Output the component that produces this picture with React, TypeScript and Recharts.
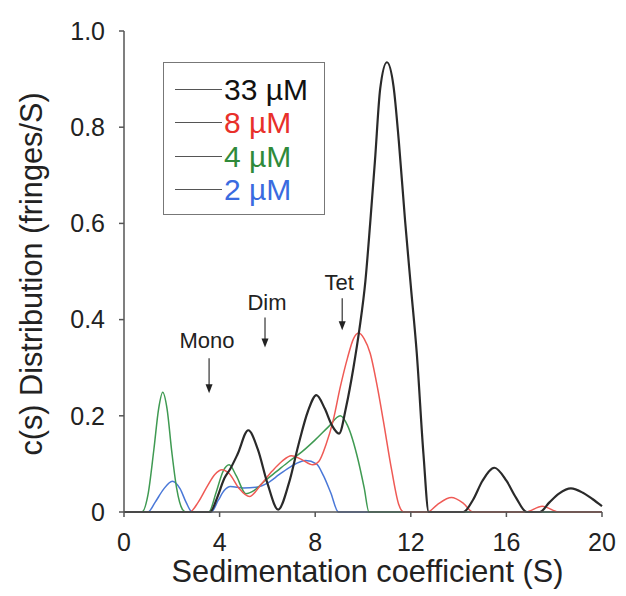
import { LineChart, Line, XAxis, YAxis, Legend, ReferenceDot, Label } from "recharts";

const FONT = "'Liberation Sans', Arial, sans-serif";

const X_TICKS = [0, 4, 8, 12, 16, 20];
const Y_TICKS = [0, 0.2, 0.4, 0.6, 0.8, 1.0];

// 33 uM
const S_33 = [0, 3.6, 3.9, 4.2, 4.45, 4.75, 5.2, 5.6, 6.0, 6.45, 6.9, 7.3, 7.7, 8.05, 8.4, 8.7, 9.0, 9.3, 9.6, 9.85, 10.1, 10.3, 10.5, 10.72, 11.0, 11.28, 11.5, 11.76, 12.0, 12.25, 12.53, 12.75, 14.2, 14.6, 15.0, 15.5, 16.0, 16.4, 16.85, 17.4, 17.8, 18.2, 18.7, 19.2, 19.6, 20];
const C_33 = [0, 0, 0.03, 0.07, 0.09, 0.12, 0.17, 0.13, 0.06, 0.005, 0.06, 0.14, 0.21, 0.243, 0.215, 0.18, 0.163, 0.22, 0.3, 0.38, 0.48, 0.6, 0.73, 0.88, 0.935, 0.884, 0.77, 0.606, 0.47, 0.33, 0.12, 0, 0, 0.025, 0.065, 0.092, 0.065, 0.03, 0, 0, 0.02, 0.038, 0.049, 0.04, 0.027, 0.012];

// 8 uM
const S_8 = [0, 2.75, 3.1, 3.5, 3.8, 4.1, 4.4, 4.8, 5.25, 5.7, 6.2, 6.6, 7.0, 7.4, 7.9, 8.15, 8.45, 8.75, 9.05, 9.35, 9.6, 9.82, 10.05, 10.3, 10.6, 10.85, 11.2, 11.5, 11.7, 12.7, 13.1, 13.7, 14.2, 14.6, 16.8, 17.5, 18.2, 20];
const C_8 = [0, 0, 0.02, 0.055, 0.078, 0.088, 0.08, 0.05, 0.032, 0.055, 0.085, 0.105, 0.117, 0.11, 0.098, 0.105, 0.14, 0.19, 0.26, 0.32, 0.36, 0.372, 0.36, 0.33, 0.26, 0.19, 0.087, 0.015, 0, 0, 0.015, 0.03, 0.018, 0, 0, 0.012, 0, 0];

// 4 uM
const S_4 = [0, 0.75, 1.0, 1.25, 1.45, 1.62, 1.8, 2.0, 2.2, 2.45, 2.6, 3.55, 3.85, 4.15, 4.4, 4.7, 5.1, 5.45, 5.9, 6.4, 6.9, 7.44, 8.0, 8.55, 9.05, 9.35, 9.8, 10.05, 10.25, 20];
const C_4 = [0, 0, 0.035, 0.13, 0.215, 0.249, 0.215, 0.125, 0.05, 0.005, 0, 0, 0.04, 0.085, 0.098, 0.075, 0.038, 0.045, 0.065, 0.085, 0.105, 0.125, 0.15, 0.177, 0.2, 0.18, 0.107, 0.05, 0, 0];

// 2 uM
const S_2 = [0, 1.0, 1.3, 1.65, 2.02, 2.35, 2.6, 2.85, 3.65, 3.95, 4.2, 4.45, 5.0, 5.6, 6.0, 6.5, 7.0, 7.6, 8.05, 8.35, 8.65, 8.97, 20];
const C_2 = [0, 0, 0.02, 0.047, 0.064, 0.048, 0.02, 0, 0, 0.025, 0.045, 0.053, 0.05, 0.052, 0.06, 0.078, 0.095, 0.107, 0.1, 0.075, 0.04, 0, 0];

const SERIES = [
  { name: "33 µM", s: S_33, c: C_33, stroke: "#2a2a2a", text: "#111111", width: 2.2 },
  { name: "8 µM", s: S_8, c: C_8, stroke: "#ef5a55", text: "#e8302a", width: 1.5 },
  { name: "4 µM", s: S_4, c: C_4, stroke: "#3f9a52", text: "#2f8a3a", width: 1.5 },
  { name: "2 µM", s: S_2, c: C_2, stroke: "#4a78d8", text: "#3a6be0", width: 1.5 },
];

// arrow tip in data coordinates, text offsets in px
const ANNOTATIONS = [
  { label: "Mono", s: 3.56, c: 0.247, textDx: -2, textDy: -45, lineDy: -35 },
  { label: "Dim", s: 5.9, c: 0.342, textDx: 2, textDy: -37, lineDy: -30 },
  { label: "Tet", s: 9.13, c: 0.378, textDx: -3, textDy: -40, lineDy: -32 },
];

function toRows(s: number[], c: number[]) {
  return s.map((x, i) => ({ s: x, c: c[i] }));
}

function arrowShape(a: (typeof ANNOTATIONS)[number]) {
  return (props: any) => {
    const { cx, cy } = props;
    return (
      <g>
        <text x={cx + a.textDx} y={cy + a.textDy} textAnchor="middle" fontSize={22} fontFamily={FONT} fill="#222">
          {a.label}
        </text>
        <line x1={cx} y1={cy + a.lineDy} x2={cx} y2={cy - 8} stroke="#333" strokeWidth={1.2} />
        <polygon points={`${cx - 3.5},${cy - 9} ${cx + 3.5},${cy - 9} ${cx},${cy}`} fill="#222" />
      </g>
    );
  };
}

function LegendBox() {
  return (
    <div
      style={{
        width: 162,
        height: 153,
        boxSizing: "border-box",
        border: "1.5px solid #777",
        paddingTop: 10,
        fontFamily: FONT,
      }}
    >
      {SERIES.map((s) => (
        <div key={s.name} style={{ display: "flex", alignItems: "center", height: 33.3 }}>
          <span style={{ display: "inline-block", marginLeft: 11, width: 47, height: 0, borderTop: "1.5px solid #555" }} />
          <span style={{ marginLeft: 2, fontSize: 30, color: s.text, lineHeight: "33px" }}>{s.name}</span>
        </div>
      ))}
    </div>
  );
}

export default function App() {
  return (
    <LineChart width={618} height={588} margin={{ top: 23, right: 24, left: 0, bottom: 0 }}>
      <XAxis
        type="number"
        dataKey="s"
        domain={[0, 20]}
        ticks={X_TICKS}
        allowDuplicatedCategory={false}
        height={84}
        stroke="#555"
        strokeWidth={1.5}
        tickSize={5}
        tickMargin={16}
        tick={{ fontSize: 25, fill: "#222", fontFamily: FONT }}
      >
        <Label
          content={() => (
            <text x={359.5} y={574} textAnchor="middle" fontSize={30.7} fontFamily={FONT} fill="#222">
              Sedimentation coefficient (S)
            </text>
          )}
        />
      </XAxis>
      <YAxis
        type="number"
        domain={[0, 1]}
        ticks={Y_TICKS}
        width={116}
        stroke="#555"
        strokeWidth={1.5}
        tickSize={5}
        tickMargin={14}
        tickFormatter={(v: number) => (v === 0 ? "0" : v.toFixed(1))}
        tick={{ fontSize: 25, fill: "#222", fontFamily: FONT }}
      >
        <Label
          content={() => (
            <text
              x={34}
              y={266}
              transform="rotate(-90 34 266)"
              textAnchor="middle"
              fontSize={30.7}
              fontFamily={FONT}
              fill="#222"
            >
              c(s) Distribution (fringes/S)
            </text>
          )}
        />
      </YAxis>
      <Legend
        layout="vertical"
        align="center"
        verticalAlign="middle"
        wrapperStyle={{ left: 155, top: 54, width: 162, height: 153 }}
        content={() => <LegendBox />}
      />
      {SERIES.slice()
        .reverse()
        .map((s) => (
          <Line
            key={s.name}
            data={toRows(s.s, s.c)}
            dataKey="c"
            name={s.name}
            type="monotone"
            stroke={s.stroke}
            strokeWidth={s.width}
            dot={false}
            activeDot={false}
            isAnimationActive={false}
          />
        ))}
      {ANNOTATIONS.map((a) => (
        <ReferenceDot key={a.label} x={a.s} y={a.c} r={0} shape={arrowShape(a)} />
      ))}
    </LineChart>
  );
}
